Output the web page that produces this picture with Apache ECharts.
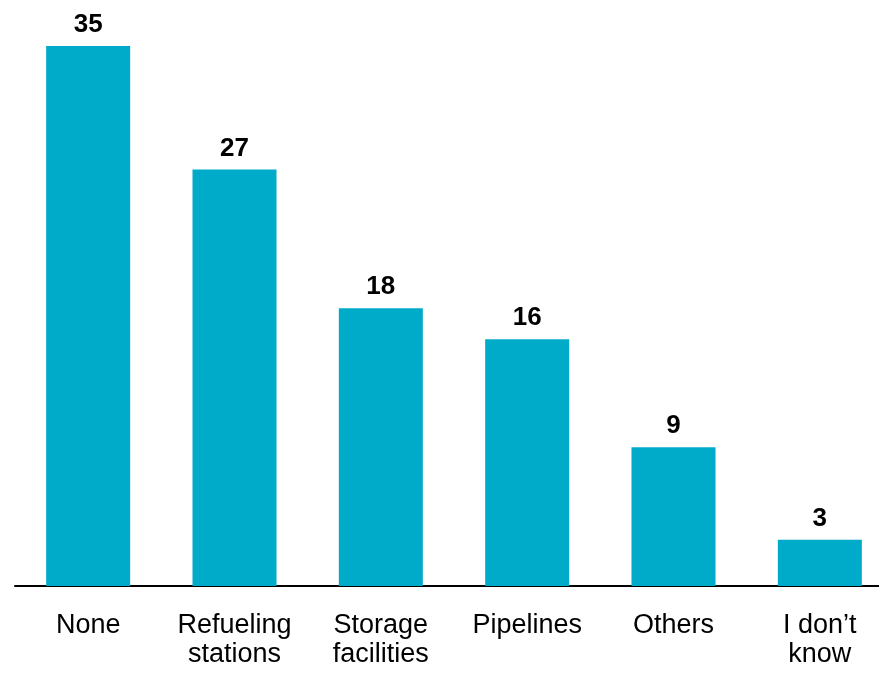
<!DOCTYPE html>
<html>
<head>
<meta charset="utf-8">
<script src="https://cdn.jsdelivr.net/npm/echarts@6/dist/echarts.min.js"></script>
<style>
  html, body { margin: 0; padding: 0; background: #fff; }
  #chart { width: 879px; height: 675px; }
</style>
</head>
<body>
<div id="chart"></div>
<script>
const categories = ['None', 'Refueling\nstations', 'Storage\nfacilities', 'Pipelines', 'Others', 'I don\u2019t\nknow'];
const values = [35, 27, 18, 16, 9, 3];

const chart = echarts.init(document.getElementById('chart'));

const option = {
  animation: false,
  grid: {
    left: 15, width: 878, top: 46, bottom: 89,
    containLabel: false,
    outerBoundsMode: 'none'
  },
  xAxis: {
    type: 'category',
    data: categories,
    axisLine: { show: true, lineStyle: { color: '#000', width: 2 } },
    axisTick: { show: false },
    axisLabel: {
      interval: 0,
      margin: 25,
      color: '#000',
      fontFamily: '"Liberation Sans", Arial, sans-serif',
      fontSize: 27,
      lineHeight: 29
    }
  },
  yAxis: {
    type: 'value',
    min: 0,
    max: 35,
    show: false,
    splitLine: { show: false }
  },
  series: [{
    type: 'bar',
    data: values,
    barWidth: 84,
    itemStyle: { color: '#00aac9' },
    label: {
      show: true,
      position: 'top',
      distance: 8,
      color: '#000',
      fontWeight: 'bold',
      fontFamily: '"Liberation Sans", Arial, sans-serif',
      fontSize: 26
    }
  }]
};

chart.setOption(option);
</script>
</body>
</html>
